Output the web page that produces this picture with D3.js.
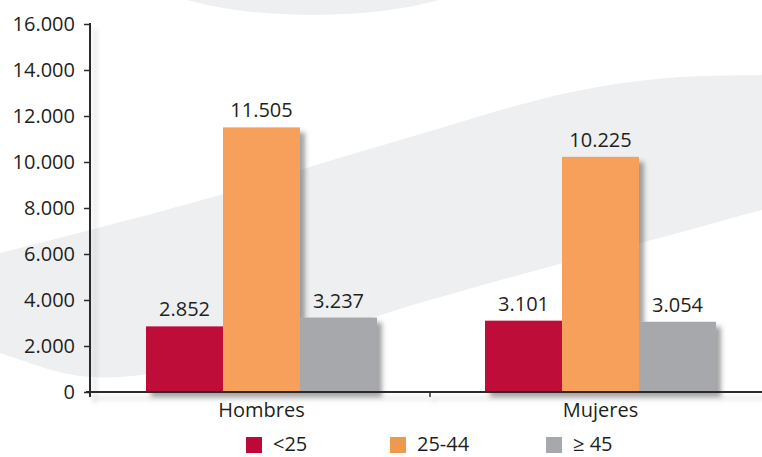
<!DOCTYPE html>
<html>
<head>
<meta charset="utf-8">
<script src="https://cdn.jsdelivr.net/npm/d3@7"></script>
<style>
  body { margin: 0; background: #fff; }
  text { font-family: "Open Sans", "Noto Sans", sans-serif; fill: #231f20; }
</style>
</head>
<body>
<script>
const categories = ["Hombres", "Mujeres"];
const ageGroups = ["<25", "25-44", "≥ 45"];
const under25 = [2852, 3101];
const age25to44 = [11505, 10225];
const over45 = [3237, 3054];
const yTicks = [0, 2000, 4000, 6000, 8000, 10000, 12000, 14000, 16000];
const colors = ["#bd0839", "#f6a05c", "#a7a8ac"];

const series = [under25, age25to44, over45];

const W = 762, H = 457;
const fmt = d3.formatLocale({ decimal: ",", thousands: ".", grouping: [3], currency: ["", ""] }).format(",d");

const svg = d3.select("body").append("svg")
  .attr("width", W)
  .attr("height", H);

const defs = svg.append("defs");
defs.append("filter").attr("id", "barShadow")
  .attr("x", "-10%").attr("y", "-10%").attr("width", "130%").attr("height", "130%")
  .append("feDropShadow")
  .attr("dx", 5).attr("dy", 5).attr("stdDeviation", 2.5)
  .attr("flood-color", "#55565a").attr("flood-opacity", 0.55);
defs.append("filter").attr("id", "lineShadow")
  .attr("x", "-10%").attr("y", "-10%").attr("width", "130%").attr("height", "130%")
  .append("feDropShadow")
  .attr("dx", 5).attr("dy", 6).attr("stdDeviation", 2.5)
  .attr("flood-color", "#888").attr("flood-opacity", 0.35);

// background swoosh (decoration only)
const bg = svg.append("g").attr("fill", "#eeeff1");
const swooshX = [-60, 0, 90, 220, 310, 400, 567, 667, 762, 860];
const swooshTop = [268, 253, 230, 195, 167, 140, 93, 78, 75, 74];
const swooshBottom = [330, 353, 377, 362, 338, 309, 262, 236, 210, 186];
bg.append("path")
  .attr("d", d3.area()
    .x((d, i) => swooshX[i])
    .y0((d, i) => swooshBottom[i])
    .y1((d, i) => swooshTop[i])
    .curve(d3.curveCatmullRom)(swooshX));
bg.append("ellipse")
  .attr("cx", 313).attr("cy", -45).attr("rx", 190).attr("ry", 60);

const y = d3.scaleLinear().domain([0, 16000]).range([392, 24]);
const x0 = d3.scaleBand().domain(categories).range([92, 770]);
const x1 = d3.scaleBand().domain(ageGroups).range([0, 231]);
const off = (x0.bandwidth() - x1.range()[1]) / 2;

// top frame line
svg.append("line")
  .attr("x1", 90).attr("x2", W).attr("y1", 24).attr("y2", 24)
  .attr("stroke", "#c6c6c6").attr("stroke-width", 2)
  .attr("filter", "url(#lineShadow)");

// bars
const bars = svg.append("g").attr("filter", "url(#barShadow)");
categories.forEach((c, ci) => {
  ageGroups.forEach((g, gi) => {
    const v = series[gi][ci];
    bars.append("rect")
      .attr("x", x0(c) + off + x1(g))
      .attr("y", y(v))
      .attr("width", x1.bandwidth())
      .attr("height", y(0) - y(v))
      .attr("fill", colors[gi]);
  });
});

// value labels
categories.forEach((c, ci) => {
  ageGroups.forEach((g, gi) => {
    const v = series[gi][ci];
    svg.append("text")
      .attr("x", x0(c) + off + x1(g) + x1.bandwidth() / 2)
      .attr("y", y(v) - 10)
      .attr("text-anchor", "middle")
      .style("font-size", "20px")
      .text(fmt(v));
  });
});

// y axis
const yAxis = svg.append("g")
  .attr("transform", "translate(90,0)")
  .call(d3.axisLeft(y).tickValues(yTicks).tickFormat(fmt).tickSizeOuter(0).tickPadding(9));
yAxis.select(".domain").remove();
yAxis.selectAll(".tick line").attr("stroke", "#2b2b2b").attr("stroke-width", 1.5);
yAxis.selectAll(".tick text").style("font-size", "20px").attr("fill", "#231f20");

// axis lines
const axisLines = svg.append("g").attr("stroke", "#2b2b2b").attr("stroke-width", 2).attr("filter", "url(#lineShadow)");
axisLines.append("line").attr("x1", 90).attr("x2", 90).attr("y1", 23).attr("y2", 397);
axisLines.append("line").attr("x1", 86).attr("x2", W).attr("y1", 392).attr("y2", 392);
axisLines.append("line").attr("x1", x0(categories[1]) - 1).attr("x2", x0(categories[1]) - 1)
  .attr("y1", 392).attr("y2", 397).attr("stroke-width", 1.5);

// x axis labels
const xAxis = svg.append("g")
  .attr("transform", "translate(0,392)")
  .call(d3.axisBottom(x0).tickSize(0).tickPadding(11));
xAxis.select(".domain").remove();
xAxis.selectAll(".tick text").style("font-size", "20px").attr("fill", "#231f20");

// legend
const legendX = [246, 390, 546];
const legend = svg.append("g");
ageGroups.forEach((g, i) => {
  legend.append("rect")
    .attr("x", legendX[i]).attr("y", 437)
    .attr("width", 16).attr("height", 16)
    .attr("fill", i === 1 ? "#ee9a4a" : colors[i]);
  legend.append("text")
    .attr("x", legendX[i] + 27).attr("y", 451)
    .style("font-size", "20px")
    .text(g);
});
</script>
</body>
</html>
